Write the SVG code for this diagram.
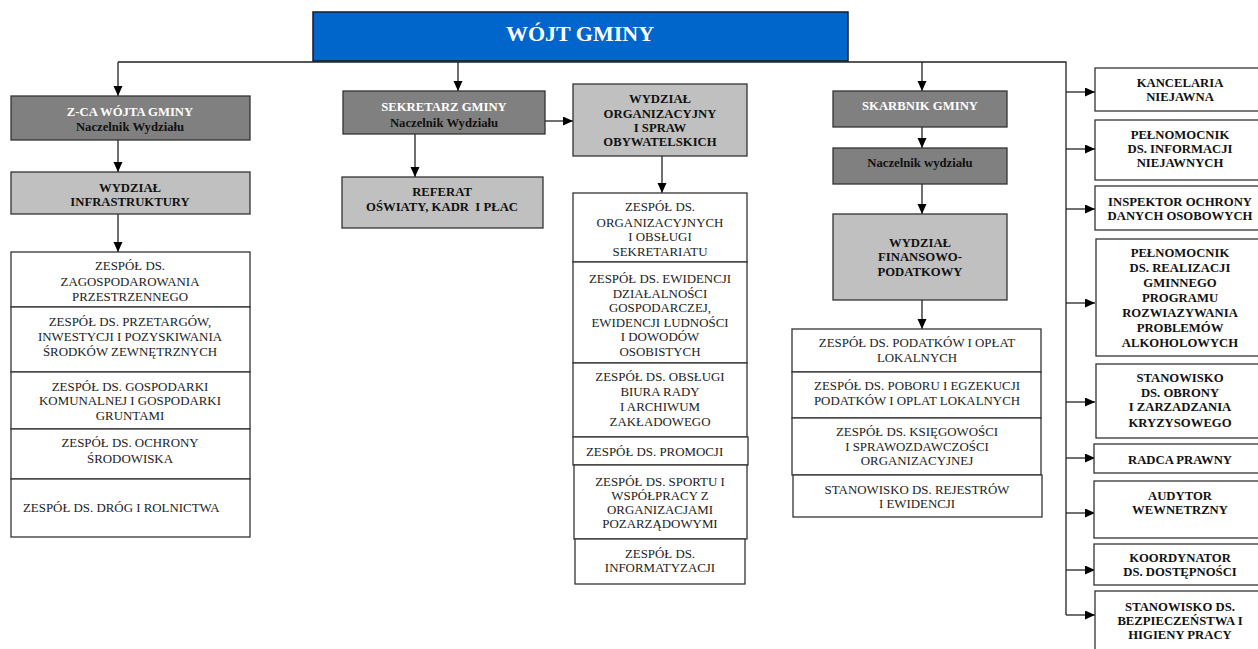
<svg xmlns="http://www.w3.org/2000/svg" width="1258" height="649" viewBox="0 0 1258 649" font-family="'Liberation Serif','Times New Roman',serif">
<style>
text{font-family:"Liberation Serif","Times New Roman",serif;text-anchor:middle}
.h{font-weight:bold;font-size:12.7px;fill:#111}
.hw{font-weight:bold;font-size:12.7px;fill:#fff}
.r{font-size:12.9px;fill:#222}
.top{fill:#0066cc;stroke:#1a1a2a;stroke-width:1.5}
.dk{fill:#808080;stroke:#333;stroke-width:1.3}
.lt{fill:#c0c0c0;stroke:#333;stroke-width:1.3}
.wh{fill:#fff;stroke:#333;stroke-width:1.3}
.c{fill:none;stroke:#222;stroke-width:1.3}
</style>
<defs>
<marker id="a" markerUnits="userSpaceOnUse" markerWidth="10" markerHeight="10" refX="10" refY="4.5" orient="auto">
<path d="M0,0 L10,4.5 L0,9 z" fill="#000"/>
</marker>
</defs>
<rect width="1258" height="649" fill="#fff"/>

<g id="connectors">
<path class="c" d="M118,62 H1066 V615"/>
<path class="c" d="M118,62 V96" marker-end="url(#a)"/>
<path class="c" d="M458,62 V91" marker-end="url(#a)"/>
<path class="c" d="M922,62 V91" marker-end="url(#a)"/>
<path class="c" d="M118,140 V172" marker-end="url(#a)"/>
<path class="c" d="M118,214 V252" marker-end="url(#a)"/>
<path class="c" d="M415,134 V177" marker-end="url(#a)"/>
<path class="c" d="M545,121 H573" marker-end="url(#a)"/>
<path class="c" d="M662,156 V193" marker-end="url(#a)"/>
<path class="c" d="M922,127 V148" marker-end="url(#a)"/>
<path class="c" d="M922,184 V214" marker-end="url(#a)"/>
<path class="c" d="M922,300 V329" marker-end="url(#a)"/>
<path class="c" d="M1066,92 H1095" marker-end="url(#a)"/>
<path class="c" d="M1066,149 H1095" marker-end="url(#a)"/>
<path class="c" d="M1066,209 H1095" marker-end="url(#a)"/>
<path class="c" d="M1066,303 H1095" marker-end="url(#a)"/>
<path class="c" d="M1066,402 H1095" marker-end="url(#a)"/>
<path class="c" d="M1066,458 H1095" marker-end="url(#a)"/>
<path class="c" d="M1066,513 H1095" marker-end="url(#a)"/>
<path class="c" d="M1066,570 H1095" marker-end="url(#a)"/>
<path class="c" d="M1066,615 H1095" marker-end="url(#a)"/>
</g>

<g id="wojt">
<rect class="top" x="313" y="12" width="535" height="49"/>
<text x="580" y="41" style="font-weight:bold;font-size:22px;fill:#fff">WÓJT GMINY</text>
</g>

<g id="zca">
<rect class="dk" x="11" y="96" width="239" height="44"/>
<text class="hw" x="130" y="116">Z-CA WÓJTA GMINY</text>
<text class="h" x="130" y="131">Naczelnik Wydziału</text>
</g>
<g id="wydz-infra">
<rect class="lt" x="11" y="172" width="239" height="42"/>
<text class="h" x="130" y="192">WYDZIAŁ</text>
<text class="h" x="130" y="206">INFRASTRUKTURY</text>
</g>
<g id="infra-list">
<rect class="wh" x="11" y="252" width="239" height="55"/>
<text class="r" x="130" y="270">ZESPÓŁ DS.</text>
<text class="r" x="130" y="286">ZAGOSPODAROWANIA</text>
<text class="r" x="130" y="301">PRZESTRZENNEGO</text>
<rect class="wh" x="11" y="307" width="239" height="65"/>
<text class="r" x="130" y="326">ZESPÓŁ DS. PRZETARGÓW,</text>
<text class="r" x="130" y="341">INWESTYCJI I POZYSKIWANIA</text>
<text class="r" x="130" y="356">ŚRODKÓW ZEWNĘTRZNYCH</text>
<rect class="wh" x="11" y="372" width="239" height="57"/>
<text class="r" x="130" y="391">ZESPÓŁ DS. GOSPODARKI</text>
<text class="r" x="130" y="405">KOMUNALNEJ I GOSPODARKI</text>
<text class="r" x="130" y="420">GRUNTAMI</text>
<rect class="wh" x="11" y="429" width="239" height="50"/>
<text class="r" x="130" y="447">ZESPÓŁ DS. OCHRONY</text>
<text class="r" x="130" y="463">ŚRODOWISKA</text>
<rect class="wh" x="11" y="479" width="239" height="58"/>
<text class="r" x="23" y="512" style="text-anchor:start">ZESPÓŁ DS. DRÓG I ROLNICTWA</text>
</g>

<g id="sekretarz">
<rect class="dk" x="343" y="91" width="202" height="43"/>
<text class="hw" x="444" y="111">SEKRETARZ GMINY</text>
<text class="h" x="444" y="127">Naczelnik Wydziału</text>
</g>
<g id="referat">
<rect class="lt" x="342" y="177" width="201" height="51"/>
<text class="h" x="442" y="196">REFERAT</text>
<text class="h" x="442" y="211" xml:space="preserve">OŚWIATY, KADR  I PŁAC</text>
</g>
<g id="wydz-org">
<rect class="lt" x="573" y="84" width="174" height="72"/>
<text class="h" x="660" y="103">WYDZIAŁ</text>
<text class="h" x="660" y="118">ORGANIZACYJNY</text>
<text class="h" x="660" y="132">I SPRAW</text>
<text class="h" x="660" y="146">OBYWATELSKICH</text>
</g>
<g id="org-list">
<rect class="wh" x="573" y="193" width="174" height="69"/>
<text class="r" x="660" y="211">ZESPÓŁ DS.</text>
<text class="r" x="660" y="227">ORGANIZACYJNYCH</text>
<text class="r" x="660" y="241">I OBSŁUGI</text>
<text class="r" x="660" y="256">SEKRETARIATU</text>
<rect class="wh" x="573" y="262" width="174" height="101"/>
<text class="r" x="660" y="283">ZESPÓŁ DS. EWIDENCJI</text>
<text class="r" x="660" y="298">DZIAŁALNOŚCI</text>
<text class="r" x="660" y="312">GOSPODARCZEJ,</text>
<text class="r" x="660" y="327">EWIDENCJI LUDNOŚCI</text>
<text class="r" x="660" y="341">I DOWODÓW</text>
<text class="r" x="660" y="356">OSOBISTYCH</text>
<rect class="wh" x="573" y="363" width="174" height="74"/>
<text class="r" x="660" y="381">ZESPÓŁ DS. OBSŁUGI</text>
<text class="r" x="660" y="396">BIURA RADY</text>
<text class="r" x="660" y="411">I ARCHIWUM</text>
<text class="r" x="660" y="426">ZAKŁADOWEGO</text>
<rect class="wh" x="573" y="437" width="175" height="28"/>
<text class="r" x="586" y="456" style="text-anchor:start">ZESPÓŁ DS. PROMOCJI</text>
<rect class="wh" x="574" y="465" width="173" height="74"/>
<text class="r" x="660" y="486">ZESPÓŁ DS. SPORTU I</text>
<text class="r" x="660" y="500">WSPÓŁPRACY Z</text>
<text class="r" x="660" y="514">ORGANIZACJAMI</text>
<text class="r" x="660" y="528">POZARZĄDOWYMI</text>
<rect class="wh" x="575" y="539" width="170" height="45"/>
<text class="r" x="660" y="558">ZESPÓŁ DS.</text>
<text class="r" x="660" y="572">INFORMATYZACJI</text>
</g>

<g id="skarbnik">
<rect class="dk" x="833" y="91" width="174" height="36"/>
<text class="hw" x="920" y="110">SKARBNIK GMINY</text>
</g>
<g id="naczelnik-fin">
<rect class="dk" x="833" y="148" width="174" height="36"/>
<text class="h" x="920" y="167">Naczelnik wydziału</text>
</g>
<g id="wydz-fin">
<rect class="lt" x="833" y="214" width="174" height="86"/>
<text class="h" x="920" y="247">WYDZIAŁ</text>
<text class="h" x="920" y="261">FINANSOWO-</text>
<text class="h" x="920" y="276">PODATKOWY</text>
</g>
<g id="fin-list">
<rect class="wh" x="792" y="329" width="249" height="43"/>
<text class="r" x="917" y="347">ZESPÓŁ DS. PODATKÓW I OPŁAT</text>
<text class="r" x="917" y="362">LOKALNYCH</text>
<rect class="wh" x="792" y="372" width="249" height="46"/>
<text class="r" x="917" y="390">ZESPÓŁ DS. POBORU I EGZEKUCJI</text>
<text class="r" x="917" y="405">PODATKÓW I OPLAT LOKALNYCH</text>
<rect class="wh" x="792" y="418" width="249" height="57"/>
<text class="r" x="917" y="436">ZESPÓŁ DS. KSIĘGOWOŚCI</text>
<text class="r" x="917" y="451">I SPRAWOZDAWCZOŚCI</text>
<text class="r" x="917" y="465">ORGANIZACYJNEJ</text>
<rect class="wh" x="793" y="475" width="249" height="42"/>
<text class="r" x="917" y="494">STANOWISKO DS. REJESTRÓW</text>
<text class="r" x="917" y="508">I EWIDENCJI</text>
</g>

<g id="kancelaria">
<rect class="wh" x="1095" y="68" width="165" height="43"/>
<text class="h" x="1180" y="87">KANCELARIA</text>
<text class="h" x="1180" y="101">NIEJAWNA</text>
</g>
<g id="pelnomocnik-inf">
<rect class="wh" x="1095" y="120" width="165" height="60"/>
<text class="h" x="1180" y="139">PEŁNOMOCNIK</text>
<text class="h" x="1180" y="153">DS. INFORMACJI</text>
<text class="h" x="1180" y="167">NIEJAWNYCH</text>
</g>
<g id="inspektor">
<rect class="wh" x="1095" y="186" width="165" height="44"/>
<text class="h" x="1180" y="206">INSPEKTOR OCHRONY</text>
<text class="h" x="1180" y="220">DANYCH OSOBOWYCH</text>
</g>
<g id="pelnomocnik-alk">
<rect class="wh" x="1096" y="239" width="165" height="117"/>
<text class="h" x="1180" y="257">PEŁNOMOCNIK</text>
<text class="h" x="1180" y="272">DS. REALIZACJI</text>
<text class="h" x="1180" y="287">GMINNEGO</text>
<text class="h" x="1180" y="302">PROGRAMU</text>
<text class="h" x="1180" y="317">ROZWIAZYWANIA</text>
<text class="h" x="1180" y="332">PROBLEMÓW</text>
<text class="h" x="1180" y="347">ALKOHOLOWYCH</text>
</g>
<g id="obrona">
<rect class="wh" x="1096" y="364" width="165" height="74"/>
<text class="h" x="1180" y="382">STANOWISKO</text>
<text class="h" x="1180" y="397">DS. OBRONY</text>
<text class="h" x="1180" y="411">I ZARZADZANIA</text>
<text class="h" x="1180" y="427">KRYZYSOWEGO</text>
</g>
<g id="radca">
<rect class="wh" x="1094" y="444" width="165" height="29"/>
<text class="h" x="1180" y="464">RADCA PRAWNY</text>
</g>
<g id="audytor">
<rect class="wh" x="1094" y="481" width="165" height="57"/>
<text class="h" x="1180" y="500">AUDYTOR</text>
<text class="h" x="1180" y="514">WEWNETRZNY</text>
</g>
<g id="koordynator">
<rect class="wh" x="1094" y="544" width="165" height="41"/>
<text class="h" x="1180" y="562">KOORDYNATOR</text>
<text class="h" x="1180" y="576">DS. DOSTĘPNOŚCI</text>
</g>
<g id="bhp">
<rect class="wh" x="1095" y="591" width="165" height="62"/>
<text class="h" x="1180" y="611">STANOWISKO DS.</text>
<text class="h" x="1180" y="625">BEZPIECZEŃSTWA I</text>
<text class="h" x="1180" y="639">HIGIENY PRACY</text>
</g>
</svg>
